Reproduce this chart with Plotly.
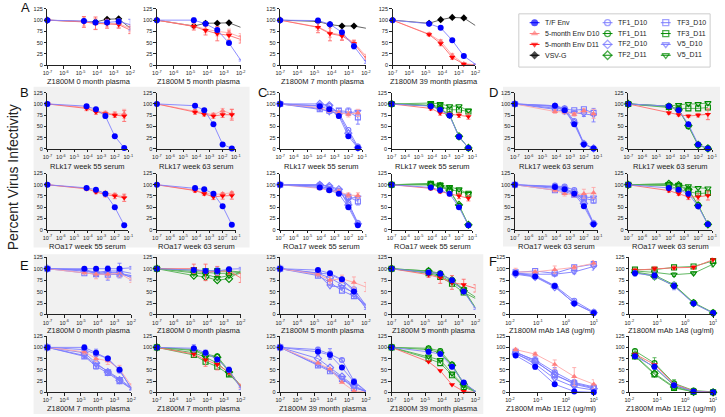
import plotly.graph_objects as go

W, H = 725, 417

# ---------------- data ----------------
X_PLASMA = [1e-7, 1.6e-5, 8e-5, 4e-4, 2e-3, 1e-2]
X_SERUM = [1e-7, 8e-5, 4e-4, 2e-3, 1e-2, 5e-2]
X_MAB = [0.016, 0.08, 0.4, 2, 10]

Y_TICKS = [0, 25, 50, 75, 100, 125]
XT_PLASMA = [1e-7, 1e-6, 1e-5, 1e-4, 1e-3, 1e-2]
XL_PLASMA = ["10<sup>-7</sup>", "10<sup>-6</sup>", "10<sup>-5</sup>", "10<sup>-4</sup>", "10<sup>-3</sup>", "10<sup>-2</sup>"]
XT_SERUM = [1e-7, 1e-6, 1e-5, 1e-4, 1e-3, 1e-2, 1e-1]
XL_SERUM = ["10<sup>-7</sup>", "10<sup>-6</sup>", "10<sup>-5</sup>", "10<sup>-4</sup>", "10<sup>-3</sup>", "10<sup>-2</sup>", "10<sup>-1</sup>"]
XT_MAB = [1e-2, 1e-1, 1, 10]
XL_MAB = ["10<sup>-2</sup>", "10<sup>-1</sup>", "10<sup>0</sup>", "10<sup>1</sup>"]

# Panel A
A1 = {"T/F Env": [100, 98, 95, 95, 97, 90], "5-month Env D10": [100, 97, 92, 93, 92, 82],
      "5-month Env D11": [100, 96, 93, 92, 90, 78], "VSV-G": [100, 98, 96, 102, 103, 82]}
A1_ERR = {"T/F Env": [0, 4, 5, 5, 6, 12], "5-month Env D10": [0, 10, 12, 8, 8, 8],
          "5-month Env D11": [0, 12, 14, 10, 8, 8]}
A2 = {"T/F Env": [100, 100, 92, 78, 49, 11], "5-month Env D10": [100, 87, 80, 75, 72, 62],
      "5-month Env D11": [100, 86, 77, 70, 66, 57], "VSV-G": [100, 87, 93, 93, 94, 84]}
A2_ERR = {"T/F Env": [0, 5, 2, 3, 2, 2], "5-month Env D10": [0, 6, 8, 10, 8, 8],
          "5-month Env D11": [0, 8, 10, 16, 10, 8]}
A3 = {"T/F Env": [100, 99, 91, 73, 42, 7], "5-month Env D10": [100, 85, 72, 67, 50, 20],
      "5-month Env D11": [100, 84, 70, 65, 48, 15], "VSV-G": [100, 97, 90, 87, 87, 82]}
A3_ERR = {"T/F Env": [0, 5, 3, 3, 6, 3], "5-month Env D10": [0, 8, 10, 10, 6, 4],
          "5-month Env D11": [0, 12, 16, 10, 6, 4]}
A4 = {"T/F Env": [100, 92, 83, 55, 20, 2], "5-month Env D10": [100, 69, 53, 22, 3, 1],
      "5-month Env D11": [100, 68, 48, 17, 2, 0], "VSV-G": [100, 93, 101, 106, 105, 88]}
A4_ERR = {"T/F Env": [0, 3, 3, 3, 3, 1], "5-month Env D10": [0, 3, 4, 4, 2, 1],
          "5-month Env D11": [0, 3, 5, 4, 2, 1]}

# Panel B
B1 = {"T/F Env": [100, 95, 88, 73, 28, 2], "5-month Env D10": [100, 92, 85, 80, 77, 78],
      "5-month Env D11": [100, 90, 82, 78, 75, 73]}
B1_ERR = {"T/F Env": [0, 2, 3, 5, 2, 1], "5-month Env D10": [0, 3, 4, 4, 6, 10],
          "5-month Env D11": [0, 5, 5, 4, 5, 12]}
B2 = {"T/F Env": [100, 96, 86, 55, 10, 1], "5-month Env D10": [100, 83, 80, 76, 85, 78],
      "5-month Env D11": [100, 82, 77, 73, 76, 76]}
B2_ERR = {"5-month Env D10": [0, 4, 4, 4, 5, 10], "5-month Env D11": [0, 5, 4, 5, 6, 12]}
B3 = {"T/F Env": [100, 93, 89, 80, 50, 10], "5-month Env D10": [100, 92, 85, 83, 77, 74],
      "5-month Env D11": [100, 91, 84, 78, 75, 71]}
B3_ERR = {"T/F Env": [0, 3, 3, 5, 2, 1], "5-month Env D11": [0, 4, 4, 5, 6, 8]}
B4 = {"T/F Env": [100, 93, 90, 80, 52, 11], "5-month Env D10": [100, 88, 82, 78, 80, 82],
      "5-month Env D11": [100, 87, 80, 73, 75, 76]}
B4_ERR = {"5-month Env D11": [0, 4, 4, 6, 7, 8]}

# Panel C
C1 = {"T/F Env": [100, 95, 88, 73, 28, 2], "5-month Env D10": [100, 92, 85, 80, 77, 80],
      "TF1_D10": [100, 97, 95, 80, 42, 5], "TF2_D10": [100, 100, 97, 78, 35, 3],
      "TF3_D10": [100, 88, 85, 85, 83, 70], "V5_D10": [100, 90, 82, 80, 80, 83]}
C1_ERR = {"TF3_D10": [0, 4, 5, 5, 8, 15], "5-month Env D10": [0, 3, 4, 5, 6, 8], "T/F Env": [0, 2, 3, 5, 2, 1]}
C2 = {"T/F Env": [100, 95, 87, 74, 27, 2], "5-month Env D11": [100, 90, 80, 77, 75, 72],
      "TF1_D11": [100, 96, 88, 75, 27, 2], "TF2_D11": [100, 97, 90, 76, 28, 2],
      "TF3_D11": [100, 97, 95, 87, 87, 83], "V5_D11": [100, 102, 100, 95, 95, 85]}
C2_ERR = {"5-month Env D11": [0, 4, 5, 4, 5, 6]}
C3 = {"T/F Env": [100, 94, 88, 80, 50, 10], "5-month Env D10": [100, 92, 87, 85, 77, 76],
      "TF1_D10": [100, 100, 95, 87, 60, 15], "TF2_D10": [100, 100, 97, 90, 55, 13],
      "TF3_D10": [100, 97, 90, 85, 73, 63], "V5_D10": [100, 97, 92, 83, 70, 72]}
C3_ERR = {"TF3_D10": [0, 6, 4, 5, 6, 8], "5-month Env D10": [0, 3, 4, 5, 5, 6]}
C4 = {"T/F Env": [100, 94, 88, 80, 50, 10], "5-month Env D11": [100, 92, 85, 80, 75, 70],
      "TF1_D11": [100, 100, 95, 87, 53, 10], "TF2_D11": [100, 100, 97, 88, 55, 11],
      "TF3_D11": [100, 102, 98, 90, 85, 80], "V5_D11": [100, 103, 100, 95, 90, 80]}
C4_ERR = {"5-month Env D11": [0, 4, 4, 5, 6, 6]}

# Panel D
D1 = {"T/F Env": [100, 96, 86, 55, 10, 1], "5-month Env D10": [100, 83, 82, 77, 85, 78],
      "TF1_D10": [100, 96, 90, 62, 12, 1], "TF2_D10": [100, 94, 88, 58, 11, 1],
      "TF3_D10": [100, 90, 87, 86, 88, 80], "V5_D10": [100, 88, 83, 80, 78, 75]}
D1_ERR = {"V5_D10": [0, 4, 5, 6, 6, 15], "5-month Env D10": [0, 4, 4, 4, 5, 10]}
D2 = {"T/F Env": [100, 95, 86, 55, 10, 1], "5-month Env D11": [100, 80, 76, 73, 75, 77],
      "TF1_D11": [100, 95, 88, 50, 8, 1], "TF2_D11": [100, 94, 87, 52, 9, 1],
      "TF3_D11": [100, 93, 90, 90, 90, 92], "V5_D11": [100, 95, 98, 100, 100, 102]}
D2_ERR = {"5-month Env D11": [0, 3, 3, 3, 4, 12]}
D3 = {"T/F Env": [100, 95, 90, 80, 52, 12], "5-month Env D10": [100, 88, 80, 78, 80, 82],
      "TF1_D10": [100, 98, 96, 88, 62, 15], "TF2_D10": [100, 95, 92, 83, 58, 13],
      "TF3_D10": [100, 88, 85, 78, 70, 65], "V5_D10": [100, 92, 88, 82, 72, 72]}
D3_ERR = {"5-month Env D10": [0, 4, 5, 5, 10, 12], "TF3_D10": [0, 5, 5, 5, 5, 6]}
D4 = {"T/F Env": [100, 93, 89, 80, 52, 12], "5-month Env D11": [100, 87, 80, 73, 73, 76],
      "TF1_D11": [100, 100, 97, 88, 55, 12], "TF2_D11": [100, 102, 99, 90, 54, 12],
      "TF3_D11": [100, 98, 90, 85, 80, 82], "V5_D11": [100, 102, 100, 97, 93, 92]}
D4_ERR = {"5-month Env D11": [0, 4, 4, 6, 7, 10], "TF3_D11": [0, 4, 5, 4, 4, 4]}

# Panel E
E1 = {"T/F Env": [100, 100, 100, 100, 100, 102], "5-month Env D10": [100, 92, 88, 88, 90, 75],
      "TF1_D10": [100, 98, 92, 95, 95, 90], "TF2_D10": [100, 95, 90, 92, 90, 85],
      "TF3_D10": [100, 90, 88, 87, 88, 83], "V5_D10": [100, 97, 90, 90, 92, 80]}
E1_ERR = {"T/F Env": [0, 4, 4, 6, 12, 3], "5-month Env D10": [0, 4, 10, 10, 8, 5], "V5_D10": [0, 4, 6, 15, 12, 5]}
E2 = {"T/F Env": [100, 97, 95, 95, 99, 100], "5-month Env D11": [100, 100, 92, 95, 95, 80],
      "TF1_D11": [100, 93, 92, 90, 90, 92], "TF2_D11": [100, 85, 82, 75, 78, 95],
      "TF3_D11": [100, 97, 95, 95, 95, 93], "V5_D11": [100, 90, 88, 80, 85, 90]}
E2_ERR = {"5-month Env D11": [0, 10, 18, 10, 8, 10], "T/F Env": [0, 5, 5, 8, 4, 3]}
E3 = {"T/F Env": [100, 97, 90, 77, 50, 13], "5-month Env D10": [100, 88, 75, 78, 70, 60],
      "TF1_D10": [100, 92, 88, 75, 55, 20], "TF2_D10": [100, 90, 80, 65, 45, 15],
      "TF3_D10": [100, 85, 70, 52, 40, 22], "V5_D10": [100, 88, 62, 60, 48, 18]}
E3_ERR = {"5-month Env D10": [0, 4, 8, 8, 12, 10], "T/F Env": [0, 3, 4, 4, 4, 2]}
E4 = {"T/F Env": [100, 92, 89, 75, 50, 13], "5-month Env D11": [100, 87, 80, 70, 65, 57],
      "TF1_D11": [100, 95, 90, 75, 55, 15], "TF2_D11": [100, 95, 87, 75, 52, 13],
      "TF3_D11": [100, 90, 82, 67, 48, 35], "V5_D11": [100, 92, 85, 70, 55, 38]}
E4_ERR = {"5-month Env D11": [0, 6, 12, 15, 12, 8], "T/F Env": [0, 3, 3, 4, 4, 2]}
E5 = {"T/F Env": [100, 100, 88, 75, 50, 8], "5-month Env D10": [100, 90, 75, 70, 52, 15],
      "TF1_D10": [100, 95, 85, 75, 48, 10], "TF2_D10": [100, 88, 65, 45, 27, 8],
      "TF3_D10": [100, 80, 58, 43, 25, 8], "V5_D10": [100, 82, 62, 47, 30, 10]}
E5_ERR = {"T/F Env": [0, 6, 8, 4, 6, 3], "5-month Env D10": [0, 5, 6, 8, 8, 4], "TF3_D10": [0, 4, 6, 4, 4, 2]}
E6 = {"T/F Env": [100, 98, 88, 73, 50, 9], "5-month Env D11": [100, 85, 72, 62, 45, 14],
      "TF1_D11": [100, 95, 85, 80, 48, 12], "TF2_D11": [100, 93, 82, 78, 45, 15],
      "TF3_D11": [100, 83, 68, 57, 40, 15], "V5_D11": [100, 88, 78, 65, 42, 13]}
E6_ERR = {"T/F Env": [0, 8, 6, 4, 6, 3], "5-month Env D11": [0, 6, 14, 12, 6, 4]}
E7 = {"T/F Env": [100, 90, 83, 55, 23, 2], "5-month Env D10": [100, 65, 52, 22, 3, 1],
      "TF1_D10": [100, 95, 85, 72, 25, 3], "TF2_D10": [100, 75, 55, 35, 15, 2],
      "TF3_D10": [100, 60, 47, 30, 10, 2], "V5_D10": [100, 62, 50, 32, 12, 2]}
E7_ERR = {"T/F Env": [0, 8, 8, 4, 4, 1], "TF1_D10": [0, 5, 12, 3, 3, 1]}
E8 = {"T/F Env": [100, 90, 85, 57, 22, 2], "5-month Env D11": [100, 68, 48, 17, 2, 0],
      "TF1_D11": [100, 98, 92, 62, 20, 2], "TF2_D11": [100, 95, 88, 60, 18, 2],
      "TF3_D11": [100, 75, 65, 38, 12, 1], "V5_D11": [100, 80, 72, 42, 15, 2]}
E8_ERR = {"T/F Env": [0, 5, 4, 4, 3, 1], "TF1_D11": [0, 4, 4, 4, 3, 1]}

# Panel F
F1 = {"T/F Env": [90, 83, 62, 24, 3], "5-month Env D10": [93, 93, 98, 103, 112],
      "TF1_D10": [90, 85, 63, 30, 5], "TF2_D10": [88, 82, 60, 25, 4],
      "TF3_D10": [92, 95, 90, 103, 110], "V5_D10": [90, 88, 88, 93, 105]}
F1_ERR = {"T/F Env": [6, 5, 4, 2, 2], "5-month Env D10": [8, 4, 8, 4, 6], "V5_D10": [5, 5, 4, 4, 8]}
F2 = {"T/F Env": [90, 85, 62, 24, 3], "5-month Env D11": [97, 100, 102, 103, 120],
      "TF1_D11": [93, 86, 65, 26, 4], "TF2_D11": [92, 83, 63, 25, 3],
      "TF3_D11": [98, 98, 103, 105, 117], "V5_D11": [95, 92, 87, 90, 110]}
F2_ERR = {"T/F Env": [6, 8, 8, 3, 2], "5-month Env D11": [4, 5, 4, 4, 6], "V5_D11": [4, 4, 4, 3, 6]}
F3 = {"T/F Env": [82, 57, 18, 2, 0], "5-month Env D10": [95, 85, 62, 35, 18],
      "TF1_D10": [88, 72, 45, 22, 12], "TF2_D10": [85, 68, 40, 18, 8],
      "TF3_D10": [90, 70, 38, 20, 10], "V5_D10": [87, 63, 30, 12, 5]}
F3_ERR = {"T/F Env": [3, 6, 4, 1, 0], "5-month Env D10": [3, 4, 10, 20, 10], "TF1_D10": [4, 8, 10, 6, 4]}
F4 = {"T/F Env": [80, 57, 16, 2, 0], "5-month Env D11": [85, 62, 18, 3, 0],
      "TF1_D11": [92, 65, 20, 4, 1], "TF2_D11": [82, 42, 12, 1, 0],
      "TF3_D11": [80, 40, 10, 1, 0], "V5_D11": [84, 55, 15, 2, 0]}
F4_ERR = {"T/F Env": [4, 6, 4, 1, 0], "TF1_D11": [3, 12, 8, 2, 1]}

# ---------------- styles ----------------
FONT = "Liberation Sans"
BLUE, BLUE_LN = "#0000FF", "#8080FF"
LBLUE = "#7A7AFF"
PINK, PINK_LN = "#FF7F7F", "#FFA8A8"
RED, RED_LN = "#FF0000", "#FF6A6A"
BLACK, BLACK_LN = "#000000", "#555555"
GREEN, GREEN_LN = "#008A00", "#50B050"

STYLE = {
    "T/F Env": dict(symbol="circle", color=BLUE, line=BLUE_LN, size=6),
    "5-month Env D10": dict(symbol="triangle-up", color=PINK, line=PINK_LN, size=5.5),
    "5-month Env D11": dict(symbol="triangle-down", color=RED, line=RED_LN, size=5.5),
    "VSV-G": dict(symbol="diamond", color=BLACK, line=BLACK_LN, size=5.5),
    "TF1_D10": dict(symbol="circle-open", color=LBLUE, line=LBLUE, size=5),
    "TF1_D11": dict(symbol="circle-open", color=GREEN, line=GREEN_LN, size=5),
    "TF2_D10": dict(symbol="diamond-open", color=LBLUE, line=LBLUE, size=5.5),
    "TF2_D11": dict(symbol="diamond-open", color=GREEN, line=GREEN_LN, size=5.5),
    "TF3_D10": dict(symbol="square-open", color=LBLUE, line=LBLUE, size=5),
    "TF3_D11": dict(symbol="square-open", color=GREEN, line=GREEN_LN, size=5),
    "V5_D10": dict(symbol="triangle-down-open", color=LBLUE, line=LBLUE, size=5.5),
    "V5_D11": dict(symbol="triangle-down-open", color=GREEN, line=GREEN_LN, size=5.5),
}
DRAW_ORDER = ["VSV-G", "TF3_D10", "TF3_D11", "V5_D10", "V5_D11", "TF2_D10", "TF2_D11",
              "TF1_D10", "TF1_D11", "5-month Env D10", "5-month Env D11", "T/F Env"]
LEGEND_COLS = [["T/F Env", "5-month Env D10", "5-month Env D11", "VSV-G"],
               ["TF1_D10", "TF1_D11", "TF2_D10", "TF2_D11"],
               ["TF3_D10", "TF3_D11", "V5_D10", "V5_D11"]]

# ---------------- layout geometry (pixels) ----------------
AXES = {
    "plasma": (X_PLASMA, [-7, -2], XT_PLASMA, XL_PLASMA),
    "serum": (X_SERUM, [-7, -1], XT_SERUM, XL_SERUM),
    "mab": (X_MAB, [-2, 1], XT_MAB, XL_MAB),
}
ROWS = {"A": (6, 63, 80), "T": (91, 148, 166), "M": (173, 230, 247),
        "E1": (258, 316, 332), "E2": (338, 395, 411)}
PANELS = [
    (A1, A1_ERR, "plasma", "Z1800M 0 month plasma", (43, 127), "A"),
    (A2, A2_ERR, "plasma", "Z1800M 5 month plasma", (154, 239), "A"),
    (A3, A3_ERR, "plasma", "Z1800M 7 month plasma", (279, 366), "A"),
    (A4, A4_ERR, "plasma", "Z1800M 39 month plasma", (393, 477), "A"),
    (B1, B1_ERR, "serum", "RLk17 week 55 serum", (43, 125), "T"),
    (B2, B2_ERR, "serum", "RLk17 week 63 serum", (154, 234), "T"),
    (B3, B3_ERR, "serum", "ROa17 week 55 serum", (43, 125), "M"),
    (B4, B4_ERR, "serum", "ROa17 week 63 serum", (154, 234), "M"),
    (C1, C1_ERR, "serum", "RLk17 week 55 serum", (279, 362), "T"),
    (C2, C2_ERR, "serum", "RLk17 week 55 serum", (392, 474), "T"),
    (C3, C3_ERR, "serum", "ROa17 week 55 serum", (279, 362), "M"),
    (C4, C4_ERR, "serum", "ROa17 week 55 serum", (392, 474), "M"),
    (D1, D1_ERR, "serum", "RLk17 week 63 serum", (517, 601), "T"),
    (D2, D2_ERR, "serum", "RLk17 week 63 serum", (632, 717), "T"),
    (D3, D3_ERR, "serum", "ROa17 week 63 serum", (517, 601), "M"),
    (D4, D4_ERR, "serum", "ROa17 week 63 serum", (632, 717), "M"),
    (E1, E1_ERR, "plasma", "Z1800M 0 month plasma", (43, 128), "E1"),
    (E2, E2_ERR, "plasma", "Z1800M 0 month plasma", (154, 239), "E1"),
    (E3, E3_ERR, "plasma", "Z1800M 5 month plasma", (279, 366), "E1"),
    (E4, E4_ERR, "plasma", "Z1800M 5 month plasma", (392, 477), "E1"),
    (E5, E5_ERR, "plasma", "Z1800M 7 month plasma", (43, 128), "E2"),
    (E6, E6_ERR, "plasma", "Z1800M 7 month plasma", (154, 239), "E2"),
    (E7, E7_ERR, "plasma", "Z1800M 39 month plasma", (279, 366), "E2"),
    (E8, E8_ERR, "plasma", "Z1800M 39 month plasma", (392, 477), "E2"),
    (F1, F1_ERR, "mab", "Z1800M mAb 1A8 (ug/ml)", (512, 597), "E1"),
    (F2, F2_ERR, "mab", "Z1800M mAb 1A8 (ug/ml)", (633, 718), "E1"),
    (F3, F3_ERR, "mab", "Z1800M mAb 1E12 (ug/ml)", (512, 597), "E2"),
    (F4, F4_ERR, "mab", "Z1800M mAb 1E12 (ug/ml)", (633, 718), "E2"),
]
BACKGROUNDS = [(29, 85, 248, 248), (505, 85, 725, 247), (29, 255, 485, 417)]
LETTERS = [("A", 21, 5), ("B", 20, 91), ("C", 261, 91), ("D", 495, 91), ("E", 20, 266), ("F", 495, 262)]

fig = go.Figure()
layout = dict(width=W, height=H, margin=dict(l=0, r=0, t=0, b=0),
              paper_bgcolor="white", plot_bgcolor="rgba(0,0,0,0)", showlegend=False,
              font=dict(family=FONT, color="#222222"))
annotations, shapes = [], []

for x0, y0, x1, y1 in BACKGROUNDS:
    shapes.append(dict(type="rect", xref="paper", yref="paper", x0=x0 / W, x1=x1 / W,
                       y0=1 - y1 / H, y1=1 - y0 / H, fillcolor="#F1F1F1",
                       line=dict(width=0), layer="below"))

for i, (data, err, kind, title, (px0, px1), row) in enumerate(PANELS, start=1):
    xs, xr, tv, tt = AXES[kind]
    ytop, ybot, ytitle = ROWS[row]
    sfx = "" if i == 1 else str(i)
    layout["xaxis" + sfx] = dict(
        domain=[px0 / W, px1 / W], anchor="y" + sfx, type="log", range=xr,
        tickvals=tv, ticktext=tt, tickfont=dict(size=5.5, color="#222"),
        showline=True, linecolor="#222", linewidth=1, ticks="outside", ticklen=2.5,
        tickwidth=1, tickcolor="#222", showgrid=False, zeroline=False)
    layout["yaxis" + sfx] = dict(
        domain=[1 - ybot / H, 1 - ytop / H], anchor="x" + sfx, range=[0, 125],
        tickvals=Y_TICKS, tickfont=dict(size=5.5, color="#222"),
        showline=True, linecolor="#222", linewidth=1, ticks="outside", ticklen=2.5,
        tickwidth=1, tickcolor="#222", showgrid=False, zeroline=False)
    annotations.append(dict(text=title, x=(px0 + px1) / 2 / W, y=1 - ytitle / H,
                            xref="paper", yref="paper", showarrow=False,
                            font=dict(size=7.5, color="#222"), xanchor="center", yanchor="middle"))
    for name in DRAW_ORDER:
        if name not in data:
            continue
        st = STYLE[name]
        opn = st["symbol"].endswith("open")
        e = err.get(name)
        fig.add_trace(go.Scatter(
            x=xs, y=data[name], mode="lines+markers", name=name,
            xaxis="x" + sfx, yaxis="y" + sfx, cliponaxis=False,
            line=dict(color=st["line"], width=0.9),
            marker=dict(symbol=st["symbol"], size=st["size"], color=st["color"],
                        line=dict(width=1.1 if opn else 0, color=st["color"])),
            error_y=dict(type="data", array=e, visible=e is not None,
                         color=st["line"], thickness=0.9, width=2),
        ))

# overlay pixel axis for the legend
n = len(PANELS) + 1
layout["xaxis%d" % n] = dict(domain=[0, 1], range=[0, W], visible=False, anchor="y%d" % n)
layout["yaxis%d" % n] = dict(domain=[0, 1], range=[H, 0], visible=False, anchor="x%d" % n)
LEG_X = [537, 611, 670]
LEG_Y0, LEG_DY = 20, 11
for c, col in enumerate(LEGEND_COLS):
    for r, name in enumerate(col):
        st = STYLE[name]
        cx, cy = LEG_X[c], LEG_Y0 + r * LEG_DY
        opn = st["symbol"].endswith("open")
        fig.add_trace(go.Scatter(
            x=[cx - 5, cx, cx + 5], y=[cy] * 3, mode="lines+markers",
            xaxis="x%d" % n, yaxis="y%d" % n, cliponaxis=False,
            line=dict(color=st["color"], width=1),
            marker=dict(symbol=st["symbol"], size=[0, st["size"] + 1, 0], color=st["color"],
                        line=dict(width=1.3 if opn else 0, color=st["color"]))))
        annotations.append(dict(text=name, x=(cx + 9) / W, y=1 - cy / H, xref="paper", yref="paper",
                                showarrow=False, xanchor="left", yanchor="middle",
                                font=dict(size=7, color="#222")))
shapes.append(dict(type="rect", xref="paper", yref="paper", x0=521 / W, x1=715 / W,
                   y0=1 - 65 / H, y1=1 - 11 / H, line=dict(color="#CCCCCC", width=1)))

for letter, lx, ly in LETTERS:
    annotations.append(dict(text=letter, x=lx / W, y=1 - ly / H, xref="paper", yref="paper",
                            showarrow=False, font=dict(size=13, color="#111"),
                            xanchor="center", yanchor="middle"))
annotations.append(dict(text="Percent Virus Infectivity", x=9 / W, y=1 - 177 / H,
                        xref="paper", yref="paper", showarrow=False, textangle=-90,
                        font=dict(size=14, color="#222"), xanchor="center", yanchor="middle"))

layout["annotations"] = annotations
layout["shapes"] = shapes
fig.update_layout(**layout)
fig.write_html("out.html", config={"displayModeBar": False},
               post_script="document.body.style.margin='0';document.body.style.overflow='hidden';")
